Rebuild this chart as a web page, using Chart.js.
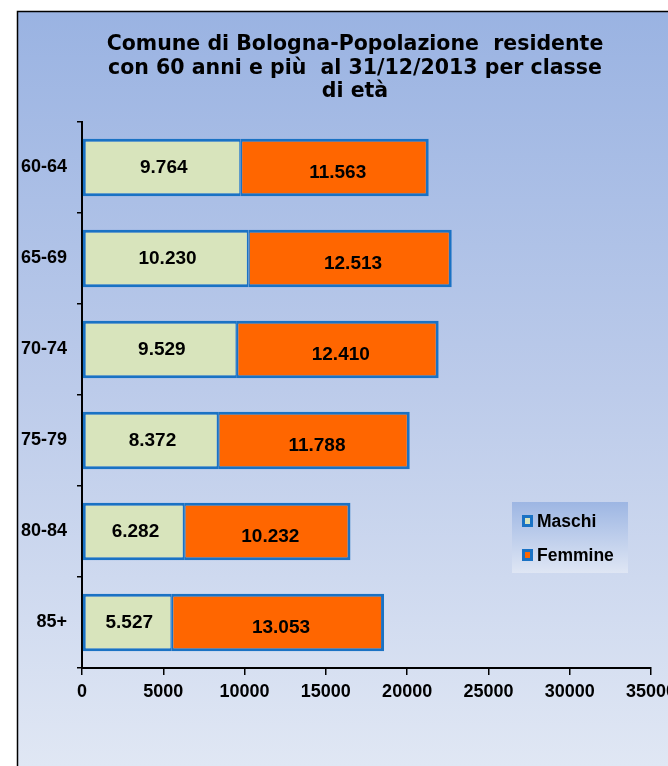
<!DOCTYPE html>
<html>
<head>
<meta charset="utf-8">
<script src="https://cdn.jsdelivr.net/npm/chart.js@4/dist/chart.umd.min.js"></script>
<style>
  html, body { margin: 0; padding: 0; background: #fff; }
  canvas { display: block; }
</style>
</head>
<body>
<canvas id="c" width="668" height="766"></canvas>
<script>
// Age classes and resident counts by sex
const categories = ['60-64', '65-69', '70-74', '75-79', '80-84', '85+'];
const maschi = [9764, 10230, 9529, 8372, 6282, 5527];
const femmine = [11563, 12513, 12410, 11788, 10232, 13053];
const seriesNames = ['Maschi', 'Femmine'];
const xMin = 0, xMax = 35000, xStep = 5000;
const titleLines = [
  'Comune di Bologna-Popolazione  residente',
  'con 60 anni e più  al 31/12/2013 per classe',
  'di età'
];

const BAR_BORDER = '#1a72c4';
const LABEL_FONT = 'bold 19px "Liberation Sans", Arial, sans-serif';

function fmt(n) {
  return String(n).replace(/\B(?=(\d{3})+(?!\d))/g, '.');
}

// Panel background, frame and title
const panelPlugin = {
  id: 'panel',
  beforeDraw(chart) {
    const ctx = chart.ctx;
    const W = chart.width, H = chart.height;
    ctx.save();
    ctx.fillStyle = '#ffffff';
    ctx.fillRect(0, 0, W, H);
    const g = ctx.createLinearGradient(0, 12, 0, H);
    g.addColorStop(0, '#9ab3e2');
    g.addColorStop(0.5, '#bccbea');
    g.addColorStop(1, '#e0e7f4');
    ctx.fillStyle = g;
    ctx.fillRect(17, 12, W - 17, H - 12);
    ctx.strokeStyle = '#000';
    ctx.lineWidth = 1.5;
    ctx.beginPath();
    ctx.moveTo(17.5, H);
    ctx.lineTo(17.5, 11.5);
    ctx.lineTo(W, 11.5);
    ctx.stroke();

    ctx.fillStyle = '#000';
    ctx.font = 'bold 20.5px "DejaVu Sans", Verdana, sans-serif';
    ctx.textAlign = 'center';
    ctx.textBaseline = 'middle';
    const ys = [45, 69, 92];
    titleLines.forEach((t, i) => ctx.fillText(t, 355, ys[i]));
    ctx.restore();
  }
};

// Value labels inside each bar segment
const valueLabels = {
  id: 'valueLabels',
  afterDatasetsDraw(chart) {
    const ctx = chart.ctx;
    ctx.save();
    ctx.font = LABEL_FONT;
    ctx.fillStyle = '#000';
    ctx.textAlign = 'center';
    ctx.textBaseline = 'middle';
    chart.data.datasets.forEach((ds, di) => {
      const meta = chart.getDatasetMeta(di);
      meta.data.forEach((bar, i) => {
        const p = bar.getProps(['x', 'y', 'base'], true);
        const cx = (p.x + p.base) / 2 + (di === 1 ? 3 : 2);
        const cy = p.y + (di === 1 ? 5 : 0);
        ctx.fillText(fmt(ds.data[i]), cx, cy);
      });
    });
    ctx.restore();
  }
};

// Legend box on the right of the plot
const legendBox = {
  id: 'legendBox',
  afterDraw(chart) {
    const ctx = chart.ctx;
    const x = 512, y = 502, w = 116, h = 71;
    ctx.save();
    const g = ctx.createLinearGradient(0, y, 0, y + h);
    g.addColorStop(0, '#9db6e3');
    g.addColorStop(1, '#dfe6f4');
    ctx.fillStyle = g;
    ctx.fillRect(x, y, w, h);
    const rows = [521, 555];
    chart.data.datasets.forEach((ds, i) => {
      const cy = rows[i];
      ctx.fillStyle = ds.borderColor;
      ctx.fillRect(522, cy - 6, 11, 12);
      ctx.fillStyle = ds.backgroundColor;
      ctx.fillRect(525, cy - 3, 5, 6);
      ctx.fillStyle = '#000';
      ctx.font = 'bold 17.5px "Liberation Sans", Arial, sans-serif';
      ctx.textAlign = 'left';
      ctx.textBaseline = 'middle';
      ctx.fillText(ds.label, 537, cy + 1);
    });
    ctx.restore();
  }
};

new Chart(document.getElementById('c'), {
  type: 'bar',
  data: {
    labels: categories,
    datasets: [
      {
        label: seriesNames[0],
        data: maschi,
        backgroundColor: '#d8e4bc',
        borderColor: BAR_BORDER,
        borderWidth: { left: 3, top: 3, bottom: 3, right: 1.5 },
        borderSkipped: false
      },
      {
        label: seriesNames[1],
        data: femmine,
        backgroundColor: '#ff6600',
        borderColor: BAR_BORDER,
        borderWidth: { left: 1.5, top: 3, bottom: 3, right: 3 },
        borderSkipped: false
      }
    ]
  },
  options: {
    indexAxis: 'y',
    responsive: false,
    animation: false,
    devicePixelRatio: 1,
    barPercentage: 0.63,
    categoryPercentage: 1,
    layout: { padding: { top: 122, right: 17, bottom: 0, left: 0 } },
    plugins: {
      legend: { display: false },
      title: { display: false },
      tooltip: { enabled: false }
    },
    scales: {
      x: {
        stacked: true,
        min: xMin,
        max: xMax,
        ticks: {
          stepSize: xStep,
          color: '#000',
          padding: 6,
          maxRotation: 0,
          autoSkip: false,
          callback: (v) => String(v),
          font: { family: '"Liberation Sans", Arial, sans-serif', size: 18, weight: 'bold' }
        },
        grid: { drawOnChartArea: false, drawTicks: true, tickLength: 7, color: '#000', lineWidth: 1.5 },
        border: { color: '#000', width: 2 },
        afterFit(scale) {
          scale.height = 98;
          scale.paddingRight = 0;
          scale.paddingLeft = 0;
        }
      },
      y: {
        stacked: true,
        ticks: {
          color: '#000',
          padding: 10,
          font: { family: '"Liberation Sans", Arial, sans-serif', size: 18, weight: 'bold' }
        },
        grid: { drawOnChartArea: false, drawTicks: true, tickLength: 5, color: '#000', lineWidth: 1.5, offset: true },
        border: { color: '#000', width: 2 },
        afterFit(scale) {
          scale.width = 82;
          scale.paddingTop = 0;
          scale.paddingBottom = 0;
        }
      }
    }
  },
  plugins: [panelPlugin, valueLabels, legendBox]
});
</script>
</body>
</html>
